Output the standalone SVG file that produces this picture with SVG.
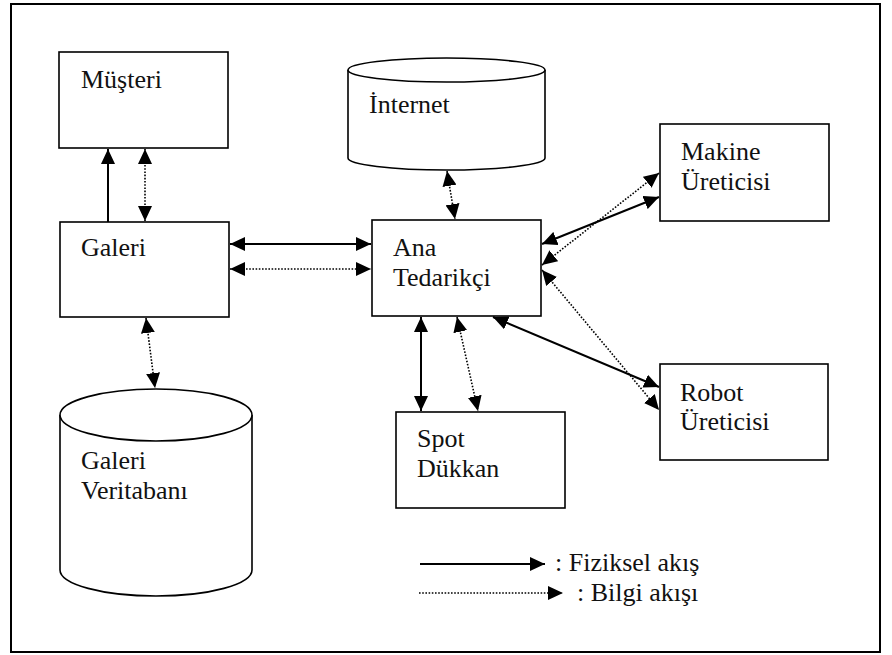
<svg xmlns="http://www.w3.org/2000/svg" width="892" height="655" viewBox="0 0 892 655">
  <defs>
    <marker id="tip" markerWidth="16" markerHeight="14" refX="15" refY="7" orient="auto-start-reverse" markerUnits="userSpaceOnUse">
      <path d="M0,0 L15,7 L0,14 Z" fill="#000"/>
    </marker>
    <style>
      .box { fill: #fff; stroke: #000; stroke-width: 1.6; }
      .frame { fill: none; stroke: #000; stroke-width: 2; }
      .lbl { font-family: "Liberation Serif", "Times New Roman", serif; font-size: 26px; fill: #111; }
      .solid { stroke: #000; stroke-width: 2; fill: none; }
      .dot { stroke: #000; stroke-width: 1.6; stroke-dasharray: 1.6 1.6; fill: none; }
    </style>
  </defs>
  <rect width="892" height="655" fill="#fff"/>
  <rect class="frame" x="11" y="4" width="869" height="648"/>

  <g id="musteri">
    <rect class="box" x="59" y="52" width="169" height="96"/>
    <text class="lbl" x="81" y="88">Müşteri</text>
  </g>
  <g id="galeri">
    <rect class="box" x="60" y="222" width="169" height="95"/>
    <text class="lbl" x="81" y="256">Galeri</text>
  </g>
  <g id="internet">
    <path class="box" d="M348,70 A98.5,12 0 0 1 545,70 L545,158 A98.5,12 0 0 1 348,158 Z"/>
    <path class="box" d="M348,70 A98.5,12 0 0 0 545,70" fill="none"/>
    <text class="lbl" x="369" y="113">İnternet</text>
  </g>
  <g id="ana-tedarikci">
    <rect class="box" x="372" y="220" width="169" height="96"/>
    <text class="lbl" x="393" y="256">Ana</text>
    <text class="lbl" x="393" y="286">Tedarikçi</text>
  </g>
  <g id="makine-ureticisi">
    <rect class="box" x="660" y="124" width="169" height="97"/>
    <text class="lbl" x="681" y="160">Makine</text>
    <text class="lbl" x="681" y="190">Üreticisi</text>
  </g>
  <g id="robot-ureticisi">
    <rect class="box" x="660" y="364" width="168" height="96"/>
    <text class="lbl" x="680" y="401">Robot</text>
    <text class="lbl" x="680" y="430">Üreticisi</text>
  </g>
  <g id="spot-dukkan">
    <rect class="box" x="396" y="412" width="169" height="96"/>
    <text class="lbl" x="417" y="447">Spot</text>
    <text class="lbl" x="417" y="477">Dükkan</text>
  </g>
  <g id="galeri-veritabani">
    <path class="box" d="M60,415 A96,26 0 0 1 252,415 L252,570 A96,26 0 0 1 60,570 Z"/>
    <path class="box" d="M60,415 A96,26 0 0 0 252,415" fill="none"/>
    <text class="lbl" x="81" y="469">Galeri</text>
    <text class="lbl" x="81" y="499">Veritabanı</text>
  </g>

  <g id="connectors">
    <!-- physical flows -->
    <line class="solid" x1="108" y1="222" x2="108" y2="149" marker-end="url(#tip)"/>
    <line class="solid" x1="230" y1="244" x2="371" y2="244" marker-start="url(#tip)" marker-end="url(#tip)"/>
    <line class="solid" x1="542" y1="244" x2="659" y2="197" marker-start="url(#tip)" marker-end="url(#tip)"/>
    <line class="solid" x1="493" y1="317" x2="659" y2="387" marker-start="url(#tip)" marker-end="url(#tip)"/>
    <line class="solid" x1="421" y1="317" x2="421" y2="411" marker-start="url(#tip)" marker-end="url(#tip)"/>
    <!-- information flows -->
    <line class="dot" x1="145" y1="149" x2="145" y2="221" marker-start="url(#tip)" marker-end="url(#tip)"/>
    <line class="dot" x1="230" y1="269" x2="371" y2="269" marker-start="url(#tip)" marker-end="url(#tip)"/>
    <line class="dot" x1="447" y1="171" x2="455" y2="219" marker-start="url(#tip)" marker-end="url(#tip)"/>
    <line class="dot" x1="146" y1="318" x2="155" y2="388" marker-start="url(#tip)" marker-end="url(#tip)"/>
    <line class="dot" x1="542" y1="265" x2="659" y2="173" marker-start="url(#tip)" marker-end="url(#tip)"/>
    <line class="dot" x1="542" y1="270" x2="659" y2="410" marker-start="url(#tip)" marker-end="url(#tip)"/>
    <line class="dot" x1="457" y1="317" x2="478" y2="411" marker-start="url(#tip)" marker-end="url(#tip)"/>
  </g>

  <g id="legend">
    <line class="solid" x1="420" y1="564" x2="545" y2="564" marker-end="url(#tip)"/>
    <text class="lbl" x="555" y="571">: Fiziksel akış</text>
    <line class="dot" x1="419" y1="593" x2="563" y2="593" marker-end="url(#tip)"/>
    <text class="lbl" x="577" y="601">: Bilgi akışı</text>
  </g>
</svg>
